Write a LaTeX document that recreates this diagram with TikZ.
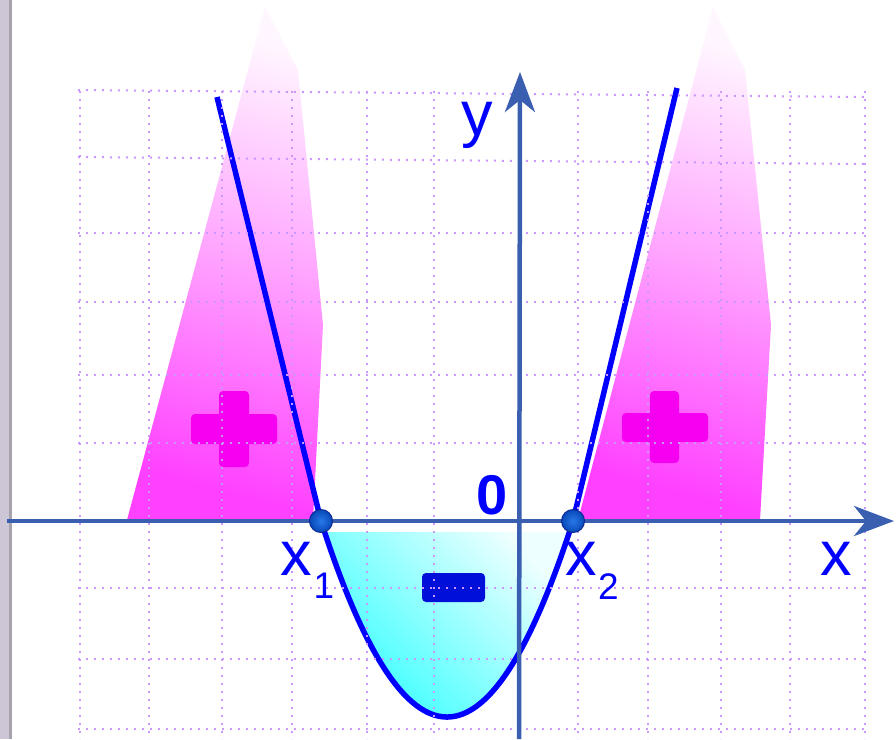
\documentclass[tikz,border=0pt]{standalone}
\usepackage{fontspec}
\setmainfont{Liberation Sans}
\usetikzlibrary{arrows.meta}
\definecolor{axiscol}{RGB}{58,94,176}
\definecolor{curvecol}{RGB}{0,0,255}
\definecolor{gridcol}{RGB}{202,152,250}
\definecolor{pinkdark}{RGB}{255,64,255}
\definecolor{pinkmid}{RGB}{255,160,255}
\definecolor{pinklight}{RGB}{255,246,255}
\definecolor{cyandark}{RGB}{56,255,255}
\definecolor{cyanlight}{RGB}{238,255,255}
\definecolor{signpink}{RGB}{245,0,240}
\definecolor{signblue}{RGB}{0,16,216}
\definecolor{dotin}{RGB}{40,120,232}
\definecolor{dotout}{RGB}{8,72,184}
\definecolor{dotline}{RGB}{10,40,150}
\definecolor{borderlight}{RGB}{204,198,214}
\definecolor{borderdark}{RGB}{166,162,174}
\begin{document}
\begin{tikzpicture}[x=1pt,y=-1pt,
  gridline/.style={gridcol, line width=2pt, dash pattern=on 2pt off 6pt},
  axisline/.style={axiscol, line width=4.5pt, -{Stealth[length=40pt,width=30pt,inset=12pt]}},
  curve/.style={curvecol, line width=5.5pt, line join=round},
  lab/.style={text=curvecol, inner sep=0pt, anchor=base, font=\fontsize{63}{63}\selectfont},
  sublab/.style={lab, font=\fontsize{37}{37}\selectfont},
  zerolab/.style={lab, font=\bfseries\fontsize{56}{56}\selectfont},
  plusbar/.style={fill=signpink, rounded corners=4pt},
  minusbar/.style={fill=signblue, rounded corners=4pt},
  pinkzone/.style={top color=pinklight, bottom color=pinkdark, middle color=pinkmid, shading angle=-15},
  rootdot/.style={circle, minimum size=23pt, inner sep=0pt, draw=dotline, line width=1pt, inner color=dotin, outer color=dotout}
]
\useasboundingbox (0,0) rectangle (896,739);
\clip (0,0) rectangle (896,739);
\fill[white] (0,0) rectangle (896,739);
% left border
\fill[borderlight] (0,0) rectangle (9,739);
\fill[borderdark] (9,0) rectangle (11.5,739);
% pink zones
\shade[pinkzone] (127,520) -- (265,7) -- (298,70) -- (323,325) -- (313,520) -- cycle;
\shade[pinkzone] (578,520) -- (713,7) -- (745,70) -- (771,325) -- (760,520) -- cycle;
% cyan zone
\shade[top color=cyanlight, bottom color=cyandark, shading angle=-45]
  (324.6,532) -- plot[domain=324.6:569.4, samples=60] (\x,{717-196*((\x-447)/126)^2}) -- cycle;
% plus signs
\path[plusbar] (191,414) rectangle (277,444);
\path[plusbar] (219,391) rectangle (249,467);
\path[plusbar] (622,413) rectangle (708,442);
\path[plusbar] (650,391) rectangle (679,463);
% minus sign
\path[minusbar] (422,573) rectangle (485,602);
% curve
\coordinate (ctopleft) at (217,97);
\coordinate (ctopright) at (677,88);
\draw[curve] (ctopleft) -- plot[domain=321:573, samples=120] (\x,{717-196*((\x-447)/126)^2}) -- (ctopright);
% grid
\draw[gridline] (78,90) -- (866,97);
\draw[gridline] (78,157) -- (866,164);
\foreach \gy in {233,302,375,443,588,659,729} \draw[gridline] (78,\gy) -- (866,\gy);
\foreach \gx in {80,149,222,292,367,434,578,648,721,790,865} \draw[gridline] (\gx,91) -- (\gx,739);
% axes
\coordinate (xstart) at (7,521);
\coordinate (xend) at (894,521);
\coordinate (ystart) at (519,739);
\coordinate (yend) at (520,72);
\draw[axisline] (xstart) -- (xend);
\draw[axisline] (ystart) -- (yend);
% roots
\node[rootdot] (xone) at (321,521) {};
\node[rootdot] (xtwo) at (573,521) {};
% labels
\node[lab] (ylab) at (477,135) {y};
\node[lab] (xlab) at (836,575) {x};
\node[lab] (xonelab) at (296.5,575) {x};
\node[sublab] (xonesub) at (324,598) {1};
\node[lab] (xtwolab) at (581.5,575) {x};
\node[sublab] (xtwosub) at (608.5,599) {2};
\node[zerolab] (origin) at (492.5,514) {0};
\end{tikzpicture}
\end{document}
